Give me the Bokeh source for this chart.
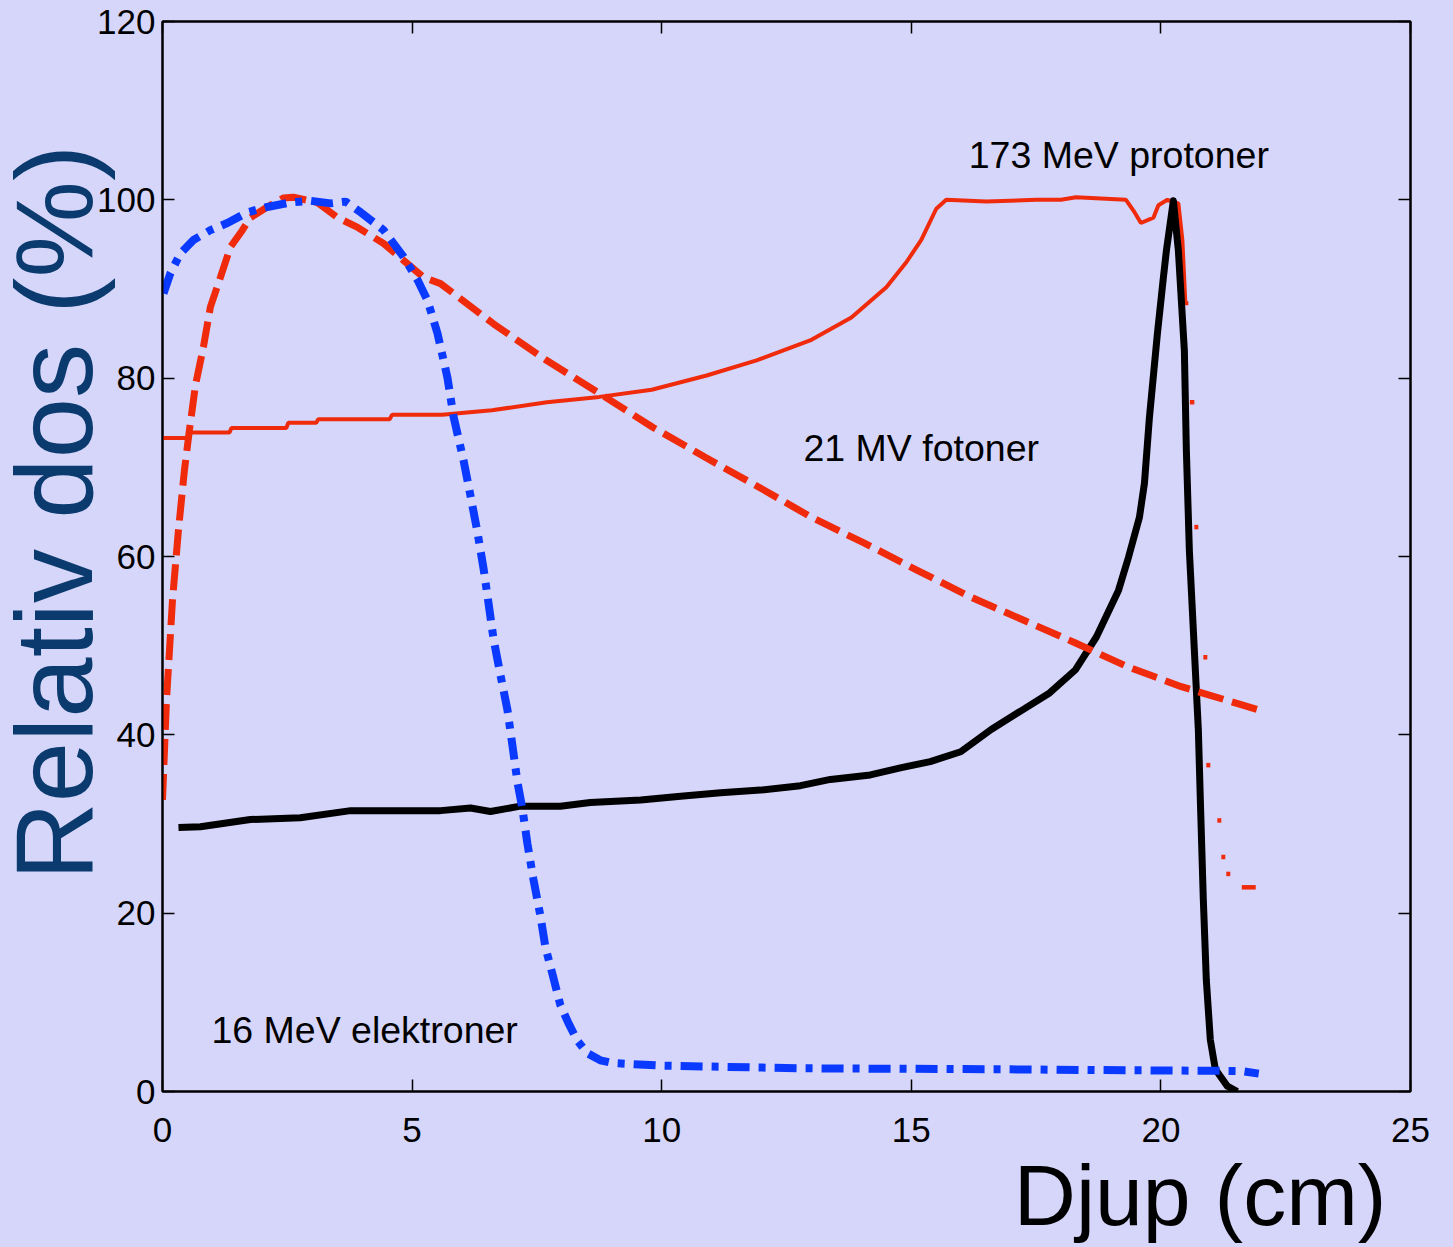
from bokeh.plotting import figure
from bokeh.models import Range1d, FixedTicker, LinearAxis, Label, Title
from bokeh.embed import file_html
from bokeh.resources import INLINE

# ---------------- data ----------------
x_ticks = [0, 5, 10, 15, 20, 25]
y_ticks = [0, 20, 40, 60, 80, 100, 120]

# 21 MV photons (red dashed)
photon_x = [0.0, 0.08, 0.2, 0.32, 0.44, 0.54, 0.66, 0.82, 0.96, 1.16, 1.36, 1.6, 1.76, 2.1, 2.42,
            2.62, 3.1, 3.51, 3.91, 4.43, 4.83, 5.23, 5.57, 6.63, 7.69, 8.75, 9.82, 10.88, 11.94,
            13.0, 14.06, 15.1, 16.17, 17.23, 18.29, 19.35, 20.41, 21.96]
photon_y = [32.7, 43.9, 55.1, 63.0, 69.7, 74.2, 79.2, 83.5, 88.0, 91.3, 94.7, 96.6, 98.0, 99.2, 100.2,
            100.3, 99.7, 98.0, 96.9, 95.1, 93.2, 91.3, 90.6, 86.1, 82.0, 78.3, 74.5, 71.1, 67.8,
            64.4, 61.5, 58.5, 55.5, 52.9, 50.3, 47.6, 45.4, 42.8]

# 16 MeV electrons (blue dash-dot)
electron_x = [0.02, 0.16, 0.36, 0.62, 0.96, 1.3, 1.7, 2.1, 2.56, 2.96, 3.37, 3.67, 3.97, 4.43, 4.83,
              5.11, 5.31, 5.51, 5.71, 5.83, 6.03, 6.17, 6.31, 6.43, 6.53, 6.63, 6.77, 6.91, 7.01,
              7.11, 7.21, 7.31, 7.43, 7.57, 7.67, 7.81, 7.97, 8.13, 8.31, 8.51, 8.77, 9.01, 9.98,
              12.78, 16.65, 18.8, 21.6, 21.96]
electron_y = [89.5, 91.8, 94.0, 95.5, 96.6, 97.4, 98.6, 99.2, 99.7, 99.9, 99.6, 99.8, 98.6, 96.6, 93.6,
              91.0, 88.7, 85.0, 80.0, 75.7, 70.8, 66.8, 62.7, 58.7, 54.8, 50.8, 46.7, 42.8, 38.8,
              34.7, 31.7, 27.8, 23.8, 19.7, 16.2, 13.2, 9.7, 7.7, 5.7, 4.3, 3.5, 3.2, 2.9,
              2.6, 2.5, 2.4, 2.3, 2.0]

# 173 MeV protons, pristine Bragg peak (black)
bragg_x = [0.32, 0.76, 1.76, 2.76, 3.77, 4.77, 5.57, 6.17, 6.57, 7.17, 7.97, 8.57, 9.58, 10.38, 11.18,
           11.98, 12.78, 13.38, 14.18, 14.78, 15.38, 15.99, 16.6, 17.23, 17.77, 18.29, 18.71, 19.15,
           19.35, 19.57, 19.67, 19.77, 19.93, 20.05, 20.11, 20.25, 20.35, 20.47, 20.51, 20.57, 20.67,
           20.75, 20.79, 20.85, 20.91, 20.99, 21.09, 21.19, 21.33, 21.53]
bragg_y = [29.6, 29.7, 30.5, 30.7, 31.5, 31.5, 31.5, 31.8, 31.4, 32.0, 32.0, 32.4, 32.7, 33.1, 33.5,
           33.8, 34.3, 35.0, 35.5, 36.3, 37.0, 38.1, 40.6, 42.8, 44.7, 47.3, 51.0, 56.2,
           59.9, 64.4, 68.2, 75.6, 85.0, 91.3, 94.3, 99.9, 94.3, 83.1, 71.9, 60.7, 49.5,
           40.6, 32.7, 21.5, 12.5, 5.8, 2.5, 1.7, 0.6, 0.0]

# 173 MeV protons, spread-out Bragg peak (red solid)
sobp_x = [0.0, 0.5, 0.52, 1.34, 1.38, 2.48, 2.52, 3.08, 3.12, 4.55, 4.6, 5.6, 6.6, 7.7, 8.75, 9.8,
          10.9, 11.9, 13.0, 13.8, 14.5, 14.9, 15.2, 15.5, 15.7, 16.5, 17.5, 18.0, 18.3, 19.3, 19.45,
          19.6, 19.85, 19.95, 20.13, 20.35, 20.43, 20.49, 20.55]
sobp_y = [73.3, 73.3, 73.9, 73.9, 74.4, 74.4, 75.0, 75.0, 75.4, 75.4, 75.9, 75.9, 76.4, 77.3, 77.9, 78.7,
          80.3, 82.0, 84.3, 86.8, 90.2, 93.0, 95.5, 99.0, 100.0, 99.8, 100.0, 100.0, 100.3, 100.0, 98.8,
          97.4, 98.0, 99.4, 100.0, 99.6, 95.5, 88.4, 88.4]
# distal fall-off of the SOBP (only short horizontal pieces are visible)
tail_x0 = [20.58, 20.67, 20.85, 20.91, 21.13, 21.21, 21.31, 21.62]
tail_x1 = [20.67, 20.75, 20.93, 20.99, 21.21, 21.29, 21.39, 21.90]
tail_y = [77.3, 63.3, 48.7, 36.6, 30.4, 26.3, 24.4, 22.9]

# ---------------- styling ----------------
BG = "#D6D6FB"
RED = "#EF2B0B"
BLUE = "#0A3AFF"
NAVY = "#0B3A6E"
FONT = "Liberation Sans"

p = figure(width=1453, height=1247, output_backend="svg", toolbar_location=None,
           x_range=Range1d(0, 25), y_range=Range1d(0, 120),
           min_border_left=162, min_border_right=43, min_border_top=21, min_border_bottom=155,
           background_fill_color=BG, border_fill_color=BG)
p.grid.visible = False
p.outline_line_color = "black"
p.outline_line_width = 2

bottom_axis = p.xaxis[0]
left_axis = p.yaxis[0]
bottom_axis.ticker = FixedTicker(ticks=x_ticks)
left_axis.ticker = FixedTicker(ticks=y_ticks)

top_axis = LinearAxis(ticker=FixedTicker(ticks=x_ticks))
right_axis = LinearAxis(ticker=FixedTicker(ticks=y_ticks))
p.add_layout(top_axis, "above")
p.add_layout(right_axis, "right")

for ax in [bottom_axis, left_axis, top_axis, right_axis]:
    ax.axis_line_color = "black"
    ax.axis_line_width = 2
    ax.major_tick_in = 12
    ax.major_tick_out = 0
    ax.major_tick_line_width = 1.5
    ax.major_tick_line_color = "black"
    ax.minor_tick_line_color = None
    ax.major_label_text_font = FONT
    ax.major_label_text_font_size = "35px"
    ax.major_label_text_color = "black"

bottom_axis.major_label_standoff = 26
left_axis.major_label_standoff = 7
for ax in [top_axis, right_axis]:
    ax.major_label_text_font_size = "0px"
    ax.major_label_standoff = 0

# axis titles
p.add_layout(Title(text="Djup (cm)", text_font=FONT, text_font_size="86px",
                   text_font_style="normal", text_color="black",
                   align="right", offset=24, vertical_align="top", standoff=5), "below")
p.add_layout(Title(text="Relativ dos (%)", text_font=FONT, text_font_size="108.5px",
                   text_font_style="normal", text_color=NAVY,
                   align="left", offset=211, vertical_align="bottom", standoff=-40), "left")

# ---------------- curves ----------------
p.line(sobp_x, sobp_y, line_color=RED, line_width=4)
p.segment(x0=tail_x0, y0=tail_y, x1=tail_x1, y1=tail_y, line_color=RED, line_width=4.5)
p.line(bragg_x, bragg_y, line_color="black", line_width=7, line_join="round")
p.line(photon_x, photon_y, line_color=RED, line_width=7, line_dash="26 9")
p.line(electron_x, electron_y, line_color=BLUE, line_width=8, line_dash="22 9 7 9")

# ---------------- annotations ----------------
def add_label(x, y, text):
    p.add_layout(Label(x=x, y=y, text=text, text_font=FONT, text_font_size="37.5px",
                       text_color="black", text_align="left", text_baseline="middle"))

add_label(16.15, 105.0, "173 MeV protoner")
add_label(12.84, 72.2, "21 MV fotoner")
add_label(0.98, 6.95, "16 MeV elektroner")

html = file_html(p, INLINE)
html = html.replace("</head>", "<style>html,body{margin:0;padding:0;background:%s;}</style></head>" % BG, 1)
open("out.html", "w").write(html)
